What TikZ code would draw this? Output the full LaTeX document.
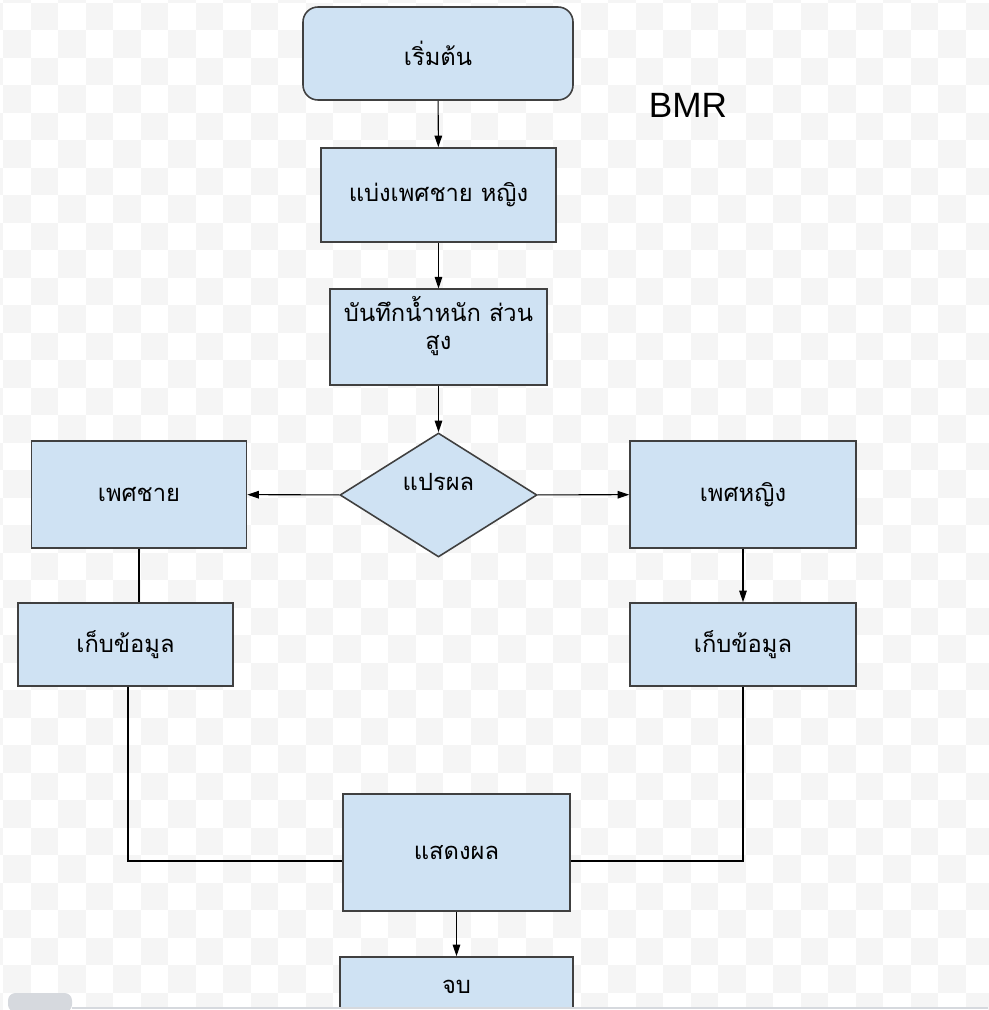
\documentclass[tikz,border=0pt]{standalone}
\usepackage{fontspec}
\setmainfont{Liberation Sans}
\newfontfamily\thaifont[Script=Thai]{Loma}
\usetikzlibrary{arrows.meta, positioning, shapes.geometric, calc}
\definecolor{cfill}{HTML}{CFE2F3}
\definecolor{cline}{HTML}{404040}
\definecolor{cchk}{HTML}{F5F5F5}
\definecolor{cbar}{HTML}{D6D9DE}
\tikzset{
  every picture/.style={font=\thaifont\fontsize{13.5}{16}\selectfont, line width=0.6pt},
  box/.style={draw=cline, fill=cfill, line width=0.9pt, align=center, inner sep=4pt, minimum width=#1},
  box/.default=43mm,
  decide/.style={diamond, aspect=1.6, draw=cline, fill=cfill, line width=0.9pt, inner sep=1pt,
    minimum width=39.4mm, minimum height=24.8mm, text depth=15pt},
  arrow/.style={-{Triangle[length=2.3mm, width=1.5mm]}, draw=black},
  link/.style={draw=black},
}

\begin{document}
\begin{tikzpicture}[x=0.2mm, y=-0.2mm]
  \useasboundingbox (0,0) rectangle (988,1010);
  % checkered backdrop
  \fill[white] (0,0) rectangle (988,1010);
  \foreach \i in {-1,...,35}{
    \foreach \j in {-1,...,36}{
      \pgfmathtruncatemacro\chk{mod(\i+\j+100,2)}
      \ifnum\chk=1 \fill[cchk] (3+27.5*\i,2.5+27.5*\j) rectangle ++(27.5,27.5); \fi
    }
  }
  % flow
  \node[box=54mm, minimum height=18.6mm, rounded corners=3mm] (start) at (438,53.5) {เริ่มต้น};
  \node[box=47mm, minimum height=18.8mm] (split) at (438.5,195) {แบ่งเพศชาย หญิง};
  \node[box=43.4mm, minimum height=18.8mm, text depth=16pt] (record) at (438.5,337) {บันทึกน้ำหนัก ส่วน\\สูง};
  \node[decide] (judge) at (438.5,495) {แปรผล};
  \node[box, minimum height=21.4mm] (male) at (139,494.5) {เพศชาย};
  \node[box=45.2mm, minimum height=21.4mm] (female) at (743,494.5) {เพศหญิง};
  \node[box, minimum height=16.6mm] (mstore) at (125.5,644.5) {เก็บข้อมูล};
  \node[box=45.2mm, minimum height=16.6mm] (fstore) at (743,644.5) {เก็บข้อมูล};
  \node[box=45.4mm, minimum height=23.4mm] (show) at (456.5,852.5) {แสดงผล};
  \node[box=46.6mm, minimum height=12mm] (finish) at (456.5,987) {จบ};
  \node[font=\rmfamily\fontsize{20}{24}\selectfont] (bmr) at (688,105) {BMR};
  \draw[arrow] (start) -- (split);
  \draw[arrow] (split) -- (record);
  \draw[arrow] (record) -- (judge);
  \draw[arrow] (judge) -- (male);
  \draw[arrow] (judge) -- (female);
  \draw[link] (male) -- (male.south |- mstore.north);
  \draw[arrow] (female) -- (fstore);
  \draw[link] ($(mstore.south)+(2.5,0)$) |- ($(show.west)+(0,8.5)$);
  \draw[link] (fstore.south) |- ($(show.east)+(0,8.5)$);
  \draw[arrow] (show) -- (finish);
  % window edge
  \fill[white] (72,1008) rectangle (988,1010);
  \draw[cbar, line width=0.8pt] (72,1008) -- (988,1008);
  \fill[cbar, rounded corners=1.5mm] (8,1012) -- (8,993) -- (72,993) -- (72,1012) -- cycle;
\end{tikzpicture}
\end{document}
